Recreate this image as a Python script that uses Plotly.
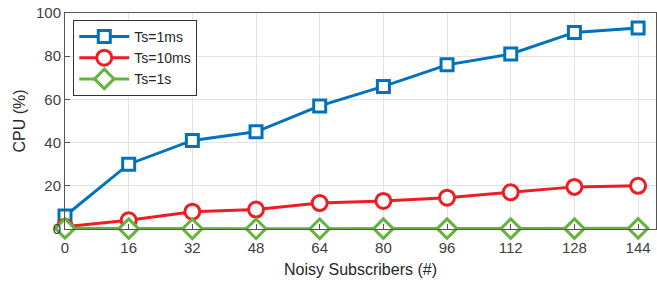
import plotly.graph_objects as go

subscribers = [0, 16, 32, 48, 64, 80, 96, 112, 128, 144]
cpu_1ms = [6, 30, 41, 45, 57, 66, 76, 81, 91, 93]
cpu_10ms = [1, 4, 8, 9, 12, 13, 14.5, 17, 19.5, 20]
cpu_1s = [0.3, 0.2, 0.1, 0.1, 0.1, 0.2, 0.2, 0.2, 0.2, 0.3]
series_names = ["Ts=1ms", "Ts=10ms", "Ts=1s"]
x_ticks = subscribers
y_ticks = [0, 20, 40, 60, 80, 100]

colors = ["#0072BD", "#EE1D23", "#63B43C"]
symbols = ["square", "circle", "diamond"]
sizes = [12, 15, 15]

fig = go.Figure()
for name, ys, c, s, sz in zip(series_names, [cpu_1ms, cpu_10ms, cpu_1s], colors, symbols, sizes):
    fig.add_trace(go.Scatter(
        x=subscribers, y=ys, name=name, mode="lines+markers",
        line=dict(color=c, width=3),
        marker=dict(symbol=s, size=sz, color="white",
                    line=dict(color=c, width=3)),
        cliponaxis=False,
    ))

axis_common = dict(
    showgrid=True, gridcolor="#E3E3E3", gridwidth=1,
    showline=True, linecolor="#555555", linewidth=1, mirror=True,
    ticks="inside", ticklen=5, tickcolor="#555555",
    tickfont=dict(family="Liberation Sans, Arial", size=15, color="#404040"),
    zeroline=False, automargin=False, ticklabeloverflow="allow",
)

fig.update_layout(
    width=657, height=283,
    margin=dict(l=65, r=1, t=13, b=54),
    paper_bgcolor="white", plot_bgcolor="white",
    font=dict(family="Liberation Sans, Arial", color="#262626"),
    showlegend=True,
    legend=dict(
        x=0.014, y=0.968, xanchor="left", yanchor="top",
        bordercolor="#333333", borderwidth=1, bgcolor="white",
        font=dict(size=14, color="#262626"),
        tracegroupgap=0, itemwidth=50,
    ),
    xaxis=dict(
        range=[0, 148.5], tickvals=x_ticks, ticktext=[str(v) for v in x_ticks],
        ticklabelstandoff=5,
        title=dict(text="Noisy Subscribers (#)", font=dict(size=16, color="#262626"), standoff=8),
        **axis_common,
    ),
    yaxis=dict(
        range=[0, 100], tickvals=y_ticks,
        title=dict(text="CPU (%)", font=dict(size=16, color="#262626"), standoff=6),
        **axis_common,
    ),
)

fig.write_html("out.html", config={"displayModeBar": False},
               post_script="document.body.style.margin='0';")
